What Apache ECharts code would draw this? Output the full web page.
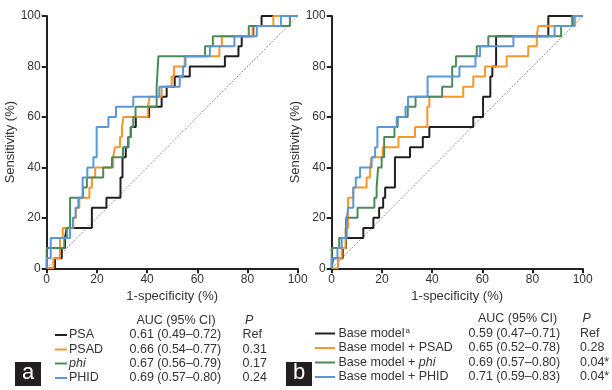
<!DOCTYPE html>
<html>
<head>
<meta charset="utf-8">
<script src="https://cdn.jsdelivr.net/npm/echarts@6/dist/echarts.min.js"></script>
<style>
  html, body { margin: 0; padding: 0; background: #fff; }
  #chart { width: 612px; height: 390px; }
</style>
</head>
<body>
<div id="chart"></div>
<script>
// ROC curves, [1-specificity %, sensitivity %]
const diagonal = [[0, 0], [100, 100]]

// panel a
const psaA = [[0,0],[3.3,0],[3.3,4],[6,4],[6,8],[7.3,8],[7.3,12],[8,12],[8,16],[18,16],[18,24],[23.8,24],[23.8,28],[29.4,28],[29.4,36],[30.2,36],[30.2,44],[31.5,44],[31.5,48],[32.5,48],[32.5,52],[33.5,52],[33.5,56],[35.5,56],[35.5,60],[40.8,60],[40.8,64],[45.8,64],[45.8,68],[47.8,68],[47.8,72],[51,72],[51,76],[57,76],[57,80],[71,80],[71,84],[76.4,84],[76.4,88],[77.7,88],[77.7,92],[82.3,92],[82.3,96],[85.6,96],[85.6,100],[100,100]]
const psadA = [[0,0],[2.7,0],[2.7,4],[5.3,4],[5.3,12],[6.4,12],[6.4,16],[10.6,16],[10.6,20],[11.7,20],[11.7,24],[13,24],[13,28],[17,28],[17,32],[18,32],[18,36],[19.3,36],[19.3,40],[26.5,40],[26.5,44],[27.2,44],[27.2,48],[29.2,48],[29.2,52],[30,52],[30,56],[30.6,56],[30.6,60],[40.3,60],[40.3,64],[41,64],[41,68],[45.8,68],[45.8,72],[49.8,72],[49.8,76],[50.7,76],[50.7,80],[55,80],[55,84],[68.8,84],[68.8,88],[69.8,88],[69.8,92],[82,92],[82,96],[90.3,96],[90.3,100],[100,100]]
const phiA = [[0,0],[0,8],[7,8],[7,12],[8,12],[8,16],[9.3,16],[9.3,28],[14.5,28],[14.5,32],[16,32],[16,36],[22.5,36],[22.5,40],[26,40],[26,44],[30.4,44],[30.4,48],[32.5,48],[32.5,52],[33.5,52],[33.5,56],[34.5,56],[34.5,60],[35.4,60],[35.4,64],[43.8,64],[43.8,72],[44.5,72],[44.5,84],[63.1,84],[63.1,88],[66.2,88],[66.2,92],[80.5,92],[80.5,96],[96.9,96],[96.9,100],[100,100]]
const phidA = [[0,0],[0,4],[1.6,4],[1.6,12],[9.3,12],[9.3,16],[10.4,16],[10.4,20],[11.5,20],[11.5,24],[12.6,24],[12.6,28],[14.3,28],[14.3,36],[16.2,36],[16.2,40],[18.6,40],[18.6,44],[19.9,44],[19.9,56],[24.6,56],[24.6,60],[27.6,60],[27.6,64],[34.5,64],[34.5,68],[44.9,68],[44.9,72],[53,72],[53,76],[54.3,76],[54.3,80],[55.3,80],[55.3,84],[65,84],[65,88],[74.8,88],[74.8,92],[83.7,92],[83.7,96],[93.3,96],[93.3,100],[100,100]]

// panel b
const baseB = [[0,0],[0.5,0],[0.5,4],[4.4,4],[4.4,8],[5.7,8],[5.7,12],[12.6,12],[12.6,16],[16.6,16],[16.6,20],[18.9,20],[18.9,24],[20.5,24],[20.5,28],[21.3,28],[21.3,32],[25.2,32],[25.2,44],[31.2,44],[31.2,48],[36.3,48],[36.3,52],[38.9,52],[38.9,56],[56.4,56],[56.4,60],[60.3,60],[60.3,68],[63.2,68],[63.2,76],[64,76],[64,80],[65.5,80],[65.5,92],[86.3,92],[86.3,100],[100,100]]
const basePsadB = [[0,0],[2.5,0],[2.5,4],[4,4],[4,8],[5.5,8],[5.5,16],[6.5,16],[6.5,28],[8.6,28],[8.6,32],[13.9,32],[13.9,36],[15.3,36],[15.3,40],[15.9,40],[15.9,44],[20.3,44],[20.3,48],[26.6,48],[26.6,52],[33.2,52],[33.2,56],[38.1,56],[38.1,64],[38.9,64],[38.9,68],[52.4,68],[52.4,72],[56.4,72],[56.4,76],[61.1,76],[61.1,80],[69.7,80],[69.7,84],[78.3,84],[78.3,88],[81.7,88],[81.7,92],[82.3,92],[82.3,96],[97,96],[97,100],[100,100]]
const basePhiB = [[0,0],[0,8],[3,8],[3,12],[5.7,12],[5.7,20],[10.3,20],[10.3,24],[17,24],[17,28],[17.9,28],[17.9,32],[18.5,32],[18.5,40],[19.9,40],[19.9,44],[20.9,44],[20.9,52],[25,52],[25,56],[26.3,56],[26.3,60],[30.3,60],[30.3,64],[33.4,64],[33.4,68],[44,68],[44,72],[48,72],[48,80],[49.5,80],[49.5,84],[57.8,84],[57.8,88],[62.4,88],[62.4,92],[91.4,92],[91.4,96],[95.8,96],[95.8,100],[100,100]]
const basePhidB = [[0,0],[0,4],[2.3,4],[2.3,8],[4,8],[4,12],[6,12],[6,20],[6.6,20],[6.6,24],[8.6,24],[8.6,32],[9.6,32],[9.6,36],[11.3,36],[11.3,40],[15.9,40],[15.9,44],[17.3,44],[17.3,48],[18.2,48],[18.2,56],[25.9,56],[25.9,60],[29.4,60],[29.4,64],[30.4,64],[30.4,68],[38.2,68],[38.2,76],[50.9,76],[50.9,80],[57.3,80],[57.3,84],[59.1,84],[59.1,88],[72.4,88],[72.4,92],[88.8,92],[88.8,96],[96.5,96],[96.5,100],[100,100]]

// legend tables
const namesA = ['PSA', 'PSAD', 'phi', 'PHID']
const aucA = ['0.61 (0.49–0.72)', '0.66 (0.54–0.77)', '0.67 (0.56–0.79)', '0.69 (0.57–0.80)']
const pA = ['Ref', '0.31', '0.17', '0.24']
const namesB = ['Base model', 'Base model + PSAD', 'Base model + phi', 'Base model + PHID']
const aucB = ['0.59 (0.47–0.71)', '0.65 (0.52–0.78)', '0.69 (0.57–0.80)', '0.71 (0.59–0.83)']
const pB = ['Ref', '0.28', '0.04*', '0.04*']

const colors = ['#231f20', '#f7962a', '#4d8a5b', '#5b97d6']
const FONT = '"Liberation Sans", Arial, sans-serif'
const TXT = '#333'

const chart = echarts.init(document.getElementById('chart'))

const xAx = (i) => ({
  type: 'value', gridIndex: i, min: 0, max: 100, interval: 20,
  name: '1-specificity (%)', nameLocation: 'middle', nameGap: 22,
  nameTextStyle: { color: TXT, fontSize: 13, fontFamily: FONT },
  axisLine: { show: true, onZero: false, lineStyle: { color: '#222', width: 2 } },
  axisTick: { show: true, length: 5, lineStyle: { color: '#222', width: 2 } },
  axisLabel: { color: TXT, fontSize: 12, margin: 5, fontFamily: FONT },
  splitLine: { show: false },
})
const yAx = (i) => ({
  type: 'value', gridIndex: i, min: 0, max: 100, interval: 20,
  name: 'Sensitivity (%)', nameLocation: 'middle', nameGap: 24,
  nameTextStyle: { color: TXT, fontSize: 13, fontFamily: FONT },
  axisLine: { show: true, onZero: false, lineStyle: { color: '#222', width: 2 } },
  axisTick: { show: true, length: 5, lineStyle: { color: '#222', width: 2 } },
  axisLabel: { color: TXT, fontSize: 12, margin: 6, fontFamily: FONT },
  splitLine: { show: false },
})

const curve = (data, i, c) => ({
  type: 'line', xAxisIndex: i, yAxisIndex: i, data: data,
  symbol: 'none', silent: true,
  lineStyle: { color: colors[c], width: 2 },
})
const diag = (i) => ({
  type: 'line', xAxisIndex: i, yAxisIndex: i, data: diagonal,
  symbol: 'none', silent: true,
  lineStyle: { color: '#777', width: 0.8, type: [2, 1.5] },
})

const rich = {
  n: { fontSize: 12.5, fontFamily: FONT, color: TXT },
  i: { fontSize: 12.5, fontFamily: FONT, fontStyle: 'italic', color: TXT },
  s: { fontSize: 8, fontFamily: FONT, color: TXT, verticalAlign: 'top', padding: [0, 0, 5, 1] },
}
const fmtName = (name, k, withNote) => {
  let t = name.indexOf('phi') >= 0 ? '{n|' + name.replace('phi', '}{i|phi}') : '{n|' + name + '}'
  if (withNote && k === 0) t += '{s|a}'
  return t
}
const txt = (text, x, y, extra) => ({
  type: 'text', silent: true,
  style: Object.assign({ text: text, x: x, y: y, fill: TXT, fontSize: 12.5, fontFamily: FONT, verticalAlign: 'middle' }, extra || {}),
})

const table = (names, auc, p, o) => {
  const els = []
  els.push(txt('AUC (95% CI)', o.hx, o.hy))
  els.push(txt('P', o.px + 2.5, o.hy, { fontStyle: 'italic' }))
  names.forEach((n, k) => {
    const y = o.rows[k]
    els.push({ type: 'line', silent: true, shape: { x1: o.lx1, y1: y, x2: o.lx2, y2: y }, style: { stroke: colors[k], lineWidth: 2 } })
    els.push(txt(fmtName(n, k, o.note), o.nx, y, { rich: rich }))
    els.push(txt(auc[k], o.ax, y))
    els.push(txt(p[k], o.px, y))
  })
  return els
}

const tag = (letter, x) => ([
  { type: 'rect', silent: true, shape: { x: x, y: 362, width: 26, height: 24 }, style: { fill: '#231f20' } },
  { type: 'text', silent: true, style: { text: letter, x: x + 13, y: 373, fill: '#fff', fontSize: 22, fontFamily: FONT, align: 'center', verticalAlign: 'middle' } },
])

chart.setOption({
  animation: false,
  backgroundColor: '#fff',
  grid: [
    { left: 46.7, right: 314.3, top: 16, bottom: 121.7 },
    { left: 331.7, right: 29.3, top: 16, bottom: 121.7 },
  ],
  xAxis: [xAx(0), xAx(1)],
  yAxis: [yAx(0), yAx(1)],
  series: [
    diag(0),
    curve(psaA, 0, 0), curve(psadA, 0, 1), curve(phiA, 0, 2), curve(phidA, 0, 3),
    diag(1),
    curve(baseB, 1, 0), curve(basePsadB, 1, 1), curve(basePhiB, 1, 2), curve(basePhidB, 1, 3),
  ],
  graphic: [].concat(
    table(namesA, aucA, pA, { hx: 136.5, hy: 321, px: 242.5, lx1: 55, lx2: 67, nx: 69, ax: 129.5, rows: [335, 349.5, 363.5, 378], note: false }),
    table(namesB, aucB, pB, { hx: 478, hy: 319, px: 580, lx1: 315, lx2: 335, nx: 338.5, ax: 468.5, rows: [333.5, 348, 362.5, 377], note: true }),
    tag('a', 15),
    tag('b', 286)
  ),
})
</script>
</body>
</html>
